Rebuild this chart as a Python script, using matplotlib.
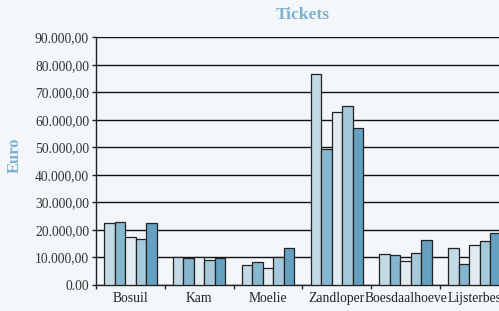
import matplotlib
matplotlib.use("Agg")
import matplotlib.pyplot as plt
import numpy as np
from matplotlib.ticker import FixedLocator

categories = ["Bosuil", "Kam", "Moelie", "Zandloper", "Boesdaalhoeve", "Lijsterbes"]
series1 = [22300, 9950, 7050, 76700, 11050, 13250]
series2 = [22900, 9600, 8150, 49200, 10700, 7400]
series3 = [17450, 9950, 6200, 62900, 8500, 14300]
series4 = [16500, 9000, 9950, 65000, 11650, 15900]
series5 = [22300, 9600, 13200, 57100, 16350, 18700]
ytick_vals = [0, 10000, 20000, 30000, 40000, 50000, 60000, 70000, 80000, 90000]
ytick_labels = ["0.00", "10.000,00", "20.000,00", "30.000,00", "40.000,00",
                "50.000,00", "60.000,00", "70.000,00", "80.000,00", "90.000,00"]

colors = ["#c3d9e5", "#87b6cf", "#e1ebf1", "#a5c8db", "#65a0c1"]
bg = "#f4f7fa"
title_color = "#7fb0cd"
serif = ["Liberation Serif", "DejaVu Serif"]

fig = plt.figure(figsize=(4.99, 3.11), dpi=100, facecolor=bg)
ax = fig.add_axes([96/499, 26.3/311, 412.8/499, 247.4/311])
ax.set_facecolor(bg)

series = [series1, series2, series3, series4, series5]
n = len(series)
bw = 0.763 / n
x = np.arange(len(categories))
for i, s in enumerate(series):
    ax.bar(x + (i - (n - 1) / 2) * bw, s, width=bw, color=colors[i],
           edgecolor="#222222", linewidth=0.9, zorder=3)

ax.set_xlim(-0.5, len(categories) - 0.5)
ax.set_ylim(0, 90000)
ax.set_yticks(ytick_vals)
ax.set_yticklabels(ytick_labels, fontfamily=serif, fontsize=9.8, color="#333333")
ax.set_xticks(x)
ax.set_xticklabels(categories, fontfamily=serif, fontsize=9.8, color="#222222")
ax.xaxis.set_minor_locator(FixedLocator(np.arange(-0.5, len(categories), 1.0)))
ax.tick_params(axis="x", which="major", length=0, pad=5)
ax.tick_params(axis="x", which="minor", length=3, width=1, color="#222222")
ax.tick_params(axis="y", length=3, width=1, color="#222222", pad=2)
ax.grid(axis="y", color="#111111", linewidth=1.0, zorder=1)
for sp in ["top", "right"]:
    ax.spines[sp].set_visible(False)
ax.spines["left"].set_color("#222222")
ax.spines["bottom"].set_color("#222222")
ax.spines["left"].set_linewidth(1.0)
ax.spines["bottom"].set_linewidth(1.0)

fig.text(303/499, 1 - 15/311, "Tickets", ha="center", va="center",
         fontfamily=serif, fontsize=12.5, fontweight="bold", color=title_color)
fig.text(15/499, 1 - 155/311, "Euro", ha="center", va="center", rotation=90,
         fontfamily=serif, fontsize=12, fontweight="bold", color=title_color)

fig.savefig("out.png", dpi=100, facecolor=bg)
